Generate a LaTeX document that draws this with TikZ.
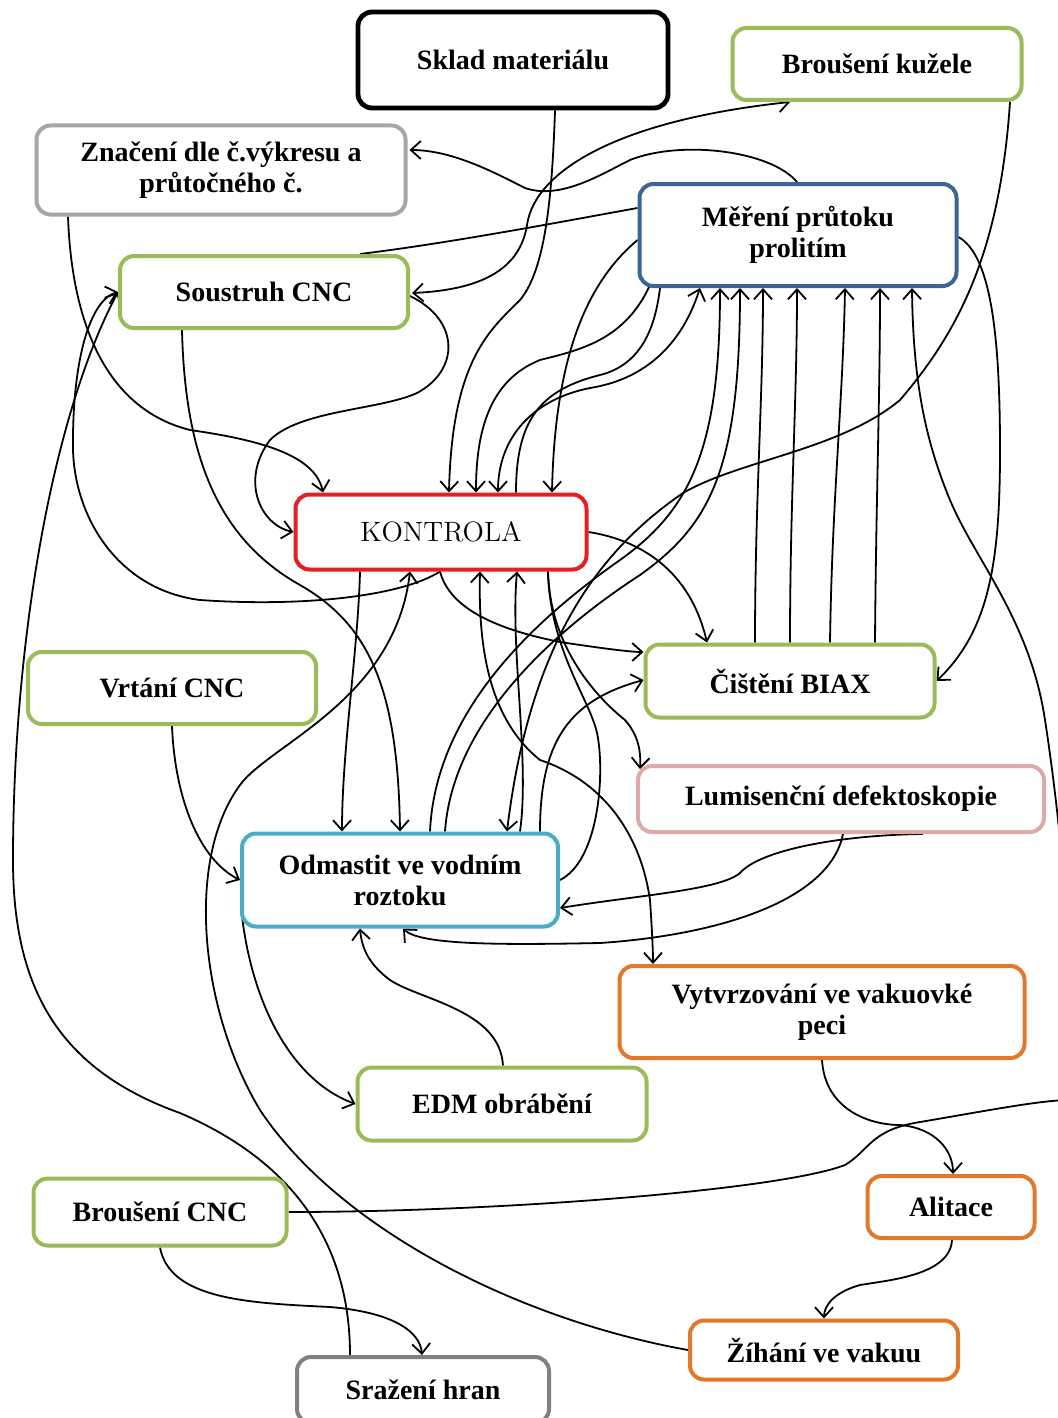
\documentclass[tikz,border=0pt]{standalone}
\usepackage{fontspec}
\newfontfamily\lbl{Liberation Serif}
\usetikzlibrary{arrows.meta,calc,backgrounds}
\definecolor{cgreen}{HTML}{9BBB59}
\definecolor{cblue}{HTML}{3C6494}
\definecolor{cred}{HTML}{E31E24}
\definecolor{ccyan}{HTML}{4BACC6}
\definecolor{corange}{HTML}{E2792A}
\definecolor{cpink}{HTML}{DDAAAA}
\definecolor{cgray}{HTML}{A6A6A6}
\definecolor{cdgray}{HTML}{808080}
\begin{document}
\begin{tikzpicture}[x=0.5pt,y=-0.5pt,
  box/.style={draw, rounded corners=7pt, line width=2pt, fill=white, align=center,
    inner sep=2pt, font=\lbl\bfseries\fontsize{14}{15.5}\selectfont},
  con/.style={line width=0.9pt, black},
  arr/.style={con, -{Straight Barb[length=5pt,width=9pt,line width=0.9pt]}},
  arrb/.style={con, {Straight Barb[length=5pt,width=9pt,line width=0.9pt]}-{Straight Barb[length=5pt,width=9pt,line width=0.9pt]}}]
\useasboundingbox (0,0) rectangle (1057,1418);

% process steps
\node[box, draw=black, line width=2.4pt, minimum width=155pt, minimum height=48pt] (sklad) at (513,60) {Sklad materiálu};
\node[box, draw=cgreen, minimum width=144.5pt, minimum height=36pt] (kuzel) at (877,64) {Broušení kužele};
\node[box, draw=cgray, minimum width=184.5pt, minimum height=44.5pt] (znaceni) at (221,170) {Značení dle č.výkresu a\\průtočného č.};
\node[box, draw=cblue, minimum width=158.5pt, minimum height=51pt] (mereni) at (798,235) {Měření průtoku\\prolitím};
\node[box, draw=cgreen, minimum width=144pt, minimum height=36pt] (soustruh) at (264,292) {Soustruh CNC};
\node[box, draw=cred, minimum width=145.5pt, minimum height=37.5pt, font=\fontsize{14}{16}\selectfont] (kontrola) at (441,532) {KONTROLA};
\node[box, draw=cgreen, minimum width=144pt, minimum height=36pt] (vrtani) at (172,688) {Vrtání CNC};
\node[box, draw=cgreen, minimum width=144.5pt, minimum height=36.5pt] (biax) at (790,681) {Čištění BIAX};
\node[box, draw=cpink, minimum width=203pt, minimum height=33pt] (lumi) at (841,799) {Lumisenční defektoskopie};
\node[box, draw=ccyan, minimum width=158pt, minimum height=46.5pt] (odmastit) at (400,880) {Odmastit ve vodním\\roztoku};
\node[box, draw=corange, minimum width=202.5pt, minimum height=46pt] (vytvr) at (822,1012) {Vytvrzování ve vakuovké\\peci};
\node[box, draw=cgreen, minimum width=144.5pt, minimum height=36.5pt] (edm) at (502,1104) {EDM obrábění};
\node[box, draw=cgreen, minimum width=126.5pt, minimum height=33.5pt] (brcnc) at (160,1212) {Broušení CNC};
\node[box, draw=corange, minimum width=83.5pt, minimum height=31pt] (alitace) at (951,1207) {Alitace};
\node[box, draw=corange, minimum width=134pt, minimum height=29.5pt] (zihani) at (824,1350) {Žíhání ve vakuu};
\node[box, draw=cdgray, minimum width=126pt, minimum height=33pt] (srazeni) at (423,1390) {Sražení hran};

\begin{scope}[on background layer]
% upper part
\draw[arr] ($(sklad.south)+(42,0)$) .. controls (552,200) and (545,270) .. (520,300) .. controls (490,330) and (452,360) .. ($(kontrola.north)+(8,0)$);
\draw[arr] ($(znaceni.south)+(-153,0)$) .. controls (72,330) and (110,410) .. (190,430) .. controls (260,440) and (315,455) .. ($(kontrola.north)+(-118,0)$);
\draw[arr] ($(mereni.north)+(-1,0)$) .. controls (770,150) and (680,140) .. (630,160) .. controls (600,175) and (560,200) .. (525,188) .. controls (490,170) and (450,150) .. ($(znaceni.east)+(2,-20)$);
\draw[con] ($(soustruh.north)+(96,0)$) .. controls (450,243) and (560,222) .. ($(mereni.west)+(0,-27)$);
\draw[arrb] ($(soustruh.east)+(2,1)$) .. controls (480,290) and (520,270) .. (527,225) .. controls (535,170) and (620,120) .. ($(kuzel.south)+(-87,0)$);
\draw[arr] ($(soustruh.east)+(0,4)$) .. controls (460,320) and (460,370) .. (417,393) .. controls (380,410) and (300,410) .. (270,440) .. controls (240,480) and (260,525) .. (kontrola.west);
\draw[arr] ($(kontrola.south)+(-1,0)$) .. controls (400,597) and (300,607) .. (200,600) .. controls (120,590) and (75,520) .. (73,450) .. controls (72,360) and (90,300) .. (soustruh.west);
\draw[arr] ($(srazeni.north)+(-73,0)$) .. controls (350,1240) and (290,1160) .. (180,1113) .. controls (60,1070) and (13,990) .. (13,860) .. controls (13,650) and (50,420) .. (soustruh.west);
\draw[arr] ($(soustruh.south)+(-82,0)$) .. controls (185,460) and (220,540) .. (300,585) .. controls (370,625) and (398,690) .. (odmastit.north);

% links around the measuring step
\draw[arr] ($(mereni.west)+(0,5)$) .. controls (590,280) and (555,350) .. ($(kontrola.north)+(111,0)$);
\draw[arr] ($(mereni.south)+(-148,-3)$) .. controls (625,340) and (580,350) .. (540,360) .. controls (490,380) and (476,430) .. ($(kontrola.north)+(35,0)$);
\draw[arrb] ($(mereni.south)+(-98,0)$) .. controls (680,350) and (640,380) .. (590,388) .. controls (530,400) and (498,440) .. ($(kontrola.north)+(57,0)$);
\draw[con] ($(kontrola.north)+(75,0)$) .. controls (516,420) and (540,390) .. (600,375) .. controls (640,365) and (655,330) .. ($(mereni.south)+(-138,0)$);
\draw[arr] ($(odmastit.north)+(30,0)$) .. controls (435,720) and (520,630) .. (620,560) .. controls (690,510) and (720,450) .. ($(mereni.south)+(-78,0)$);
\draw[arr] ($(odmastit.north)+(45,0)$) .. controls (452,730) and (540,640) .. (640,575) .. controls (710,525) and (740,470) .. ($(mereni.south)+(-58,0)$);
\draw[arr] ($(biax.north)+(-35,0)$) .. controls (755,500) and (763,400) .. ($(mereni.south)+(-35,0)$);
\draw[arr] ($(biax.north)+(0,0)$) .. controls (790,500) and (797,400) .. ($(mereni.south)+(-1,0)$);
\draw[arr] ($(biax.north)+(40,0)$) .. controls (832,500) and (843,400) .. ($(mereni.south)+(47,0)$);
\draw[arr] ($(biax.north)+(85,0)$) .. controls (876,500) and (880,400) .. ($(mereni.south)+(82,0)$);
\draw[arr] ($(mereni.east)+(0,2)$) .. controls (990,255) and (1000,330) .. (1000,450) .. controls (1000,560) and (990,630) .. (biax.east);
\draw[arr] (brcnc.east) .. controls (500,1212) and (780,1190) .. (845,1165) .. controls (870,1150) and (870,1130) .. (920,1122) .. controls (980,1112) and (1040,1100) .. (1070,1100) .. controls (1075,1000) and (1065,850) .. (1045,720) .. controls (1030,620) and (975,560) .. (950,500) .. controls (925,440) and (913,380) .. ($(mereni.south)+(114,0)$);
\draw[arr] ($(kuzel.south)+(133,0)$) .. controls (1000,250) and (960,330) .. (900,400) .. controls (840,450) and (740,460) .. (683,493) .. controls (600,550) and (530,640) .. ($(odmastit.north)+(107,0)$);

% links below the inspection
\draw[arr] (kontrola.east) .. controls (640,540) and (690,570) .. ($(biax.north)+(-83,0)$);
\draw[arr] ($(kontrola.south)+(-1,0)$) .. controls (450,610) and (500,630) .. (560,642) .. controls (600,648) and (630,652) .. ($(biax.west)+(0,-29)$);
\draw[arr] ($(odmastit.north)+(140,0)$) .. controls (540,740) and (570,700) .. ($(biax.west)+(0,-1)$);
\draw[arr] ($(kontrola.south)+(107,0)$) .. controls (550,650) and (600,700) .. (625,720) .. controls (638,735) and (641,750) .. ($(lumi.north west)+(4,5)$);
\draw[arrb] ($(kontrola.south)+(39,0)$) .. controls (478,650) and (490,720) .. (540,760) .. controls (600,780) and (640,830) .. (650,900) .. controls (652,930) and (653,950) .. ($(vytvr.north)+(-169,0)$);
\draw[arr] ($(odmastit.north)+(120,0)$) .. controls (530,760) and (510,650) .. ($(kontrola.south)+(76,0)$);
\draw[con] (odmastit.east) .. controls (600,860) and (605,770) .. (597,733) .. controls (590,700) and (550,650) .. ($(kontrola.south)+(107,0)$);
\draw[arr] ($(kontrola.south)+(-81,0)$) .. controls (358,650) and (342,750) .. ($(odmastit.north)+(-58,0)$);
\draw[arr] (zihani.west) .. controls (520,1320) and (340,1230) .. (260,1110) .. controls (200,1010) and (185,860) .. (240,785) .. controls (270,744) and (395,700) .. ($(kontrola.south)+(-31,0)$);

% lower part
\draw[arr] (vrtani.south) .. controls (175,800) and (200,860) .. (odmastit.west);
\draw[arr] ($(odmastit.west)+(1,27)$) .. controls (250,1000) and (290,1080) .. (edm.west);
\draw[arr] ($(edm.north)+(1,0)$) .. controls (500,1010) and (420,1000) .. (390,980) .. controls (370,965) and (362,950) .. ($(odmastit.south)+(-40,0)$);
\draw[arr] ($(lumi.south)+(2,0)$) .. controls (830,900) and (720,935) .. (600,943) .. controls (500,945) and (420,945) .. ($(odmastit.south)+(3,0)$);
\draw[arr] ($(lumi.south)+(82,0)$) .. controls (840,835) and (760,850) .. (740,873) .. controls (720,890) and (640,895) .. ($(odmastit.east)+(0,28)$);
\draw[arr] (vytvr.south) .. controls (825,1110) and (870,1125) .. (900,1125) .. controls (935,1128) and (953,1150) .. ($(alitace.north)+(2,0)$);
\draw[arr] ($(alitace.south)+(1,0)$) .. controls (950,1275) and (890,1280) .. (860,1285) .. controls (835,1292) and (824,1305) .. (zihani.north);
\draw[arr] (brcnc.south) .. controls (170,1300) and (250,1303) .. (330,1307) .. controls (390,1312) and (420,1330) .. ($(srazeni.north)+(-1,0)$);
\end{scope}
\end{tikzpicture}
\end{document}
